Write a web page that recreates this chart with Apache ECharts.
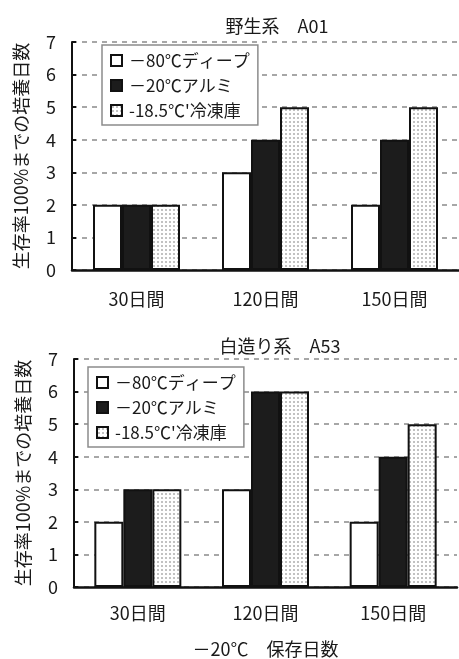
<!DOCTYPE html>
<html>
<head>
<meta charset="utf-8">
<script src="https://cdn.jsdelivr.net/npm/echarts@6/dist/echarts.min.js"></script>
<style>
  html, body { margin: 0; padding: 0; background: #fff; }
  #chart { width: 459px; height: 659px; }
</style>
</head>
<body>
<div id="chart"></div>
<script>
// Storage period categories (x axis)
var categories = ['30日間', '120日間', '150日間'];
var seriesNames = ['－80℃ディープ', '－20℃アルミ', "-18.5℃'冷凍庫"];
var yTicks = [0, 1, 2, 3, 4, 5, 6, 7];

// Days of culture until 100% survival — wild strain A01
var a01Deep80 = [2, 3, 2];
var a01Alumi20 = [2, 4, 4];
var a01Freezer = [2, 5, 5];

// Days of culture until 100% survival — Shirotsukuri strain A53
var a53Deep80 = [2, 3, 2];
var a53Alumi20 = [3, 6, 4];
var a53Freezer = [3, 6, 5];

var FONT = '"Noto Sans CJK JP", "Noto Sans", sans-serif';
var TXT = '#1a1a1a';

// light stipple used for the freezer bars
function makeDots() {
  var c = document.createElement('canvas');
  c.width = 4; c.height = 4;
  var g = c.getContext('2d');
  g.fillStyle = '#ffffff';
  g.fillRect(0, 0, 4, 4);
  g.fillStyle = '#c2c2c2';
  g.fillRect(1, 1, 2, 2);
  return c;
}
var dots = { image: makeDots(), repeat: 'repeat' };

var fills = ['#ffffff', '#1c1c1c', dots];

function xAxisFor(gridIndex, labelMargin, withName) {
  var ax = {
    type: 'category',
    gridIndex: gridIndex,
    data: categories,
    axisLine: { lineStyle: { color: '#111', width: 2.5 } },
    axisTick: { inside: true, length: 6, lineStyle: { color: '#111', width: 2 } },
    axisLabel: { margin: labelMargin, fontSize: 18, color: TXT, fontFamily: FONT },
    splitLine: { show: false }
  };
  if (withName) {
    ax.name = '－20℃　保存日数';
    ax.nameLocation = 'middle';
    ax.nameGap = 53;
    ax.nameTextStyle = { fontSize: 18, color: TXT, fontFamily: FONT };
  }
  return ax;
}

function yAxisFor(gridIndex) {
  return {
    type: 'value',
    gridIndex: gridIndex,
    min: yTicks[0],
    max: yTicks[yTicks.length - 1],
    interval: 1,
    name: '生存率100%までの培養日数',
    nameLocation: 'middle',
    nameGap: 42,
    nameRotate: 90,
    nameTextStyle: { fontSize: 18, color: TXT, fontFamily: FONT },
    axisLine: { show: true, lineStyle: { color: '#111', width: 2 } },
    axisTick: { show: true, inside: true, length: 4, lineStyle: { color: '#111', width: 2 } },
    axisLabel: { margin: 16, fontSize: 18, color: TXT, fontFamily: FONT },
    splitLine: { show: true, lineStyle: { color: '#8a8a8a', width: 1.5, type: [5, 5] } }
  };
}

function barSeries(name, data, idx, axisIndex) {
  return {
    name: name,
    type: 'bar',
    xAxisIndex: axisIndex,
    yAxisIndex: axisIndex,
    data: data,
    barWidth: 29,
    barGap: '0%',
    itemStyle: { color: fills[idx], borderColor: '#111', borderWidth: 2 }
  };
}

function legendFor(left, top) {
  return {
    orient: 'vertical',
    left: left,
    top: top,
    data: seriesNames,
    icon: 'rect',
    itemWidth: 11,
    itemHeight: 11,
    itemGap: 8,
    padding: [7, 8, 6, 8],
    backgroundColor: '#ffffff',
    borderColor: '#8c8c8c',
    borderWidth: 1.5,
    borderRadius: 0,
    itemStyle: { borderColor: '#111', borderWidth: 2 },
    textStyle: { fontSize: 17, color: TXT, fontFamily: FONT, padding: [0, 0, 0, 2] }
  };
}

var chart = echarts.init(document.getElementById('chart'), null, { renderer: 'canvas' });

chart.setOption({
  animation: false,
  backgroundColor: '#ffffff',
  title: [
    { text: '野生系　A01', left: 272, top: 12, textAlign: 'center',
      textStyle: { fontSize: 18, fontWeight: 'normal', color: TXT, fontFamily: FONT } },
    { text: '白造り系　A53', left: 275, top: 332, textAlign: 'center',
      textStyle: { fontSize: 18, fontWeight: 'normal', color: TXT, fontFamily: FONT } }
  ],
  legend: [legendFor(102, 45), legendFor(88, 367)],
  grid: [
    { left: 72, top: 42, width: 389, height: 228 },
    { left: 74, top: 359, width: 383, height: 230 }
  ],
  xAxis: [xAxisFor(0, 20, false), xAxisFor(1, 17, true)],
  yAxis: [yAxisFor(0), yAxisFor(1)],
  series: [
    barSeries(seriesNames[0], a01Deep80, 0, 0),
    barSeries(seriesNames[1], a01Alumi20, 1, 0),
    barSeries(seriesNames[2], a01Freezer, 2, 0),
    barSeries(seriesNames[0], a53Deep80, 0, 1),
    barSeries(seriesNames[1], a53Alumi20, 1, 1),
    barSeries(seriesNames[2], a53Freezer, 2, 1)
  ]
});
</script>
</body>
</html>
